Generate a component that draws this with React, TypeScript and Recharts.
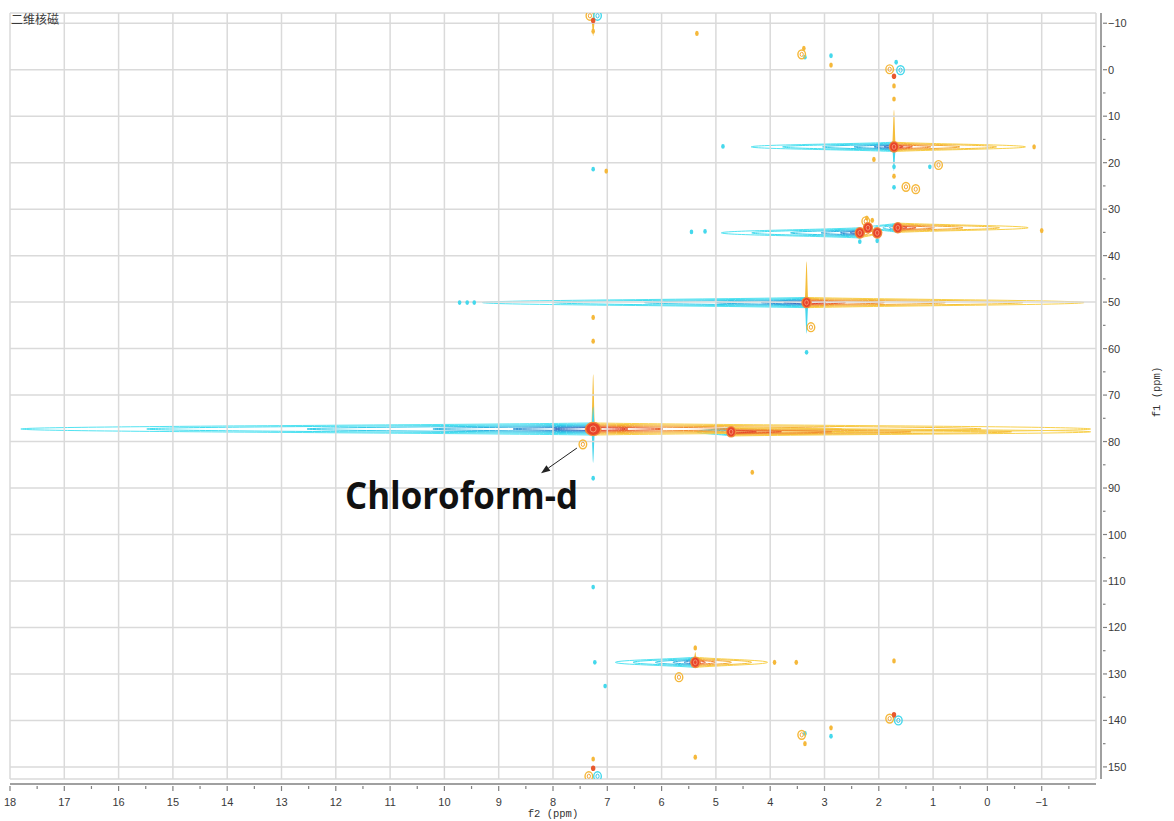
import React from 'react';
import {
  ScatterChart, Scatter, XAxis, YAxis, ReferenceLine, ReferenceArea, ReferenceDot,
} from 'recharts';

// axes (ppm)
const f2Labels = [18, 17, 16, 15, 14, 13, 12, 11, 10, 9, 8, 7, 6, 5, 4, 3, 2, 1, 0, -1];
const f2Ticks = [18, 17.5, 17, 16.5, 16, 15.5, 15, 14.5, 14, 13.5, 13, 12.5, 12, 11.5, 11, 10.5, 10, 9.5, 9, 8.5,
  8, 7.5, 7, 6.5, 6, 5.5, 5, 4.5, 4, 3.5, 3, 2.5, 2, 1.5, 1, 0.5, 0, -0.5, -1, -1.5];
const f1Labels = [-10, 0, 10, 20, 30, 40, 50, 60, 70, 80, 90, 100, 110, 120, 130, 140, 150];
const f1Ticks = [-10, -5, 0, 5, 10, 15, 20, 25, 30, 35, 40, 45, 50, 55, 60, 65, 70, 75, 80, 85, 90, 95, 100,
  105, 110, 115, 120, 125, 130, 135, 140, 145, 150];
const f2Range: [number, number] = [-2, 18];
const f1Range: [number, number] = [-12.2, 152.6];

// cross peaks: centre + where the cyan (left) and orange (right) ridges end along f2
const peakF2 = [7.26, 4.72, 3.33, 2.35, 1.65, 1.72, 5.38];
const peakF1 = [77.3, 77.9, 50.1, 35.1, 34.0, 16.6, 127.5];
const peakCyanTo = [17.8, 5.35, 9.3, 4.9, 2.2, 4.35, 6.85];
const peakOrangeTo = [-1.9, -1.9, -1.78, 2.0, -0.75, -0.7, 4.05];
const peakHalfF1 = [1.3, 0.9, 1.1, 1.1, 1.0, 1.0, 1.1];
const solventCore: [number, number][] = [[7.26, 77.3]];
const extraCores: [number, number][] = [[2.2, 34.0], [2.03, 35.1]];

// streaks along f1
const vOrangeF2 = [7.26, 3.33, 1.72, 7.26, 5.38];
const vOrangeWide = [77.3, 50.1, 16.6, -11.0, 127.5];
const vOrangeTip = [65.5, 41.2, 8.6, -7.2, 125.3];
const vCyanF2 = [7.26, 3.33, 1.72, 7.26];
const vCyanWide = [77.3, 50.1, 16.6, 77.3];
const vCyanTip = [84.6, 56.8, 21.8, 72.5];

// small isolated spots [f2, f1]
const orangeSpots: [number, number][] = [
  [7.26, -8.3], [5.35, -7.8], [3.38, -4.6], [2.88, -1.0], [1.72, 3.5], [1.72, 6.3], [1.72, 22.9],
  [7.02, 21.8], [-0.86, 16.6], [2.09, 19.3], [-1.0, 34.6], [2.22, 31.9], [2.12, 32.4], [7.26, 53.3],
  [7.26, 58.4], [4.33, 86.6], [3.92, 127.5], [3.52, 127.5], [1.72, 127.2], [5.38, 124.4], [5.38, 147.9],
  [3.36, 145.0], [2.88, 141.6], [7.26, 148.3],
];
const orangeRings: [number, number][] = [
  [7.32, -11.6], [3.42, -3.3], [1.8, -0.1], [1.5, 25.2], [1.32, 25.7], [0.9, 20.5], [2.24, 32.6],
  [3.25, 55.4], [7.45, 80.6], [5.68, 130.7], [3.42, 143.1], [1.8, 139.6], [7.34, 152.0],
];
const cyanSpots: [number, number][] = [
  [3.36, -2.7], [2.88, -3.0], [1.68, -1.6], [4.87, 16.5], [1.72, 20.9], [1.06, 20.9], [7.26, 21.4],
  [1.72, 25.3], [5.45, 34.9], [5.2, 34.8], [2.35, 37.0], [2.03, 36.8], [9.72, 50.1], [9.58, 50.1],
  [9.45, 50.1], [3.33, 60.8], [7.26, 87.9], [7.26, 111.3], [7.23, 127.5], [7.04, 132.6], [3.36, 142.8],
  [2.88, 143.4],
];
const cyanRings: [number, number][] = [[7.18, -11.6], [1.6, 0.1], [1.64, 140.0], [7.18, 152.0]];
const redSpots: [number, number][] = [[1.72, 1.4], [1.72, 138.8], [7.26, 150.3], [7.26, -10.6]];

const CYAN = ['#52e3f1', '#3fdcef', '#33cbe9', '#2fb2e0', '#3393d4', '#3b70c2'];
const ORANGE = ['#f8d04a', '#f6c03a', '#f4ab34', '#f08c31', '#ea622d', '#e3452a'];
const LEN = [1, 0.78, 0.5, 0.28, 0.14, 0.07];
const HT = [1, 0.82, 0.66, 0.52, 0.4, 0.3];
const GRID = '#dadada';
const AXIS = '#808080';
const TICK_FONT = '"Liberation Sans", Arial, sans-serif';

const pts = (list: [number, number][]) => list.map(([x, y]) => ({ x, y }));
const fmt = (v: number) => (v < 0 ? '\u2212' + Math.abs(v) : String(v));

const spindle = (cx: number, cy: number, L: number, h: number, d: number) =>
  `M${cx},${cy - h} C${cx + d * L * 0.3},${cy - h * 0.6} ${cx + d * L * 0.99},${cy - h * 0.45} ${cx + d * L},${cy} ` +
  `C${cx + d * L * 0.99},${cy + h * 0.45} ${cx + d * L * 0.3},${cy + h * 0.6} ${cx},${cy + h}`;

const vSpindle = (cx: number, cy: number, L: number, w: number, d: number) =>
  `M${cx - w},${cy} C${cx - w * 0.5},${cy + d * L * 0.3} ${cx - w * 0.3},${cy + d * L * 0.99} ${cx},${cy + d * L} ` +
  `C${cx + w * 0.3},${cy + d * L * 0.99} ${cx + w * 0.5},${cy + d * L * 0.3} ${cx + w},${cy} Z`;

const ridge = (dir: number, colors: string[]) => (p: any) => {
  const { x, y, width, height } = p;
  if (x == null || !isFinite(x)) return <g />;
  const cy = y + height / 2;
  const cx = dir < 0 ? x + width : x;
  return (
    <g>
      {LEN.map((lf, k) => (
        <path key={k} d={spindle(cx, cy, width * lf, (height / 2) * HT[k], dir)}
          fill="none" stroke={colors[k]} strokeWidth={1} />
      ))}
    </g>
  );
};

const vStreak = (tipAbove: boolean, color: string) => (p: any) => {
  const { x, y, width, height } = p;
  if (x == null || !isFinite(x)) return <g />;
  const cx = x + width / 2;
  return tipAbove
    ? <path d={vSpindle(cx, y + height, height, 1.8, -1)} fill={color} />
    : <path d={vSpindle(cx, y, height, 1.8, 1)} fill={color} />;
};

const XTick = (p: any) => {
  const { x, y, payload } = p;
  const major = Number.isInteger(payload.value);
  return (
    <g>
      <line x1={x} x2={x} y1={y + 5} y2={y + 5 + (major ? 5 : 3)} stroke={AXIS} strokeWidth={1.2} />
      {major && f2Labels.includes(payload.value) && (
        <text x={x} y={y + 25} textAnchor="middle" fontSize={11} fill="#3a3a3a" fontFamily={TICK_FONT}>
          {fmt(payload.value)}
        </text>
      )}
    </g>
  );
};

const YTick = (p: any) => {
  const { x, y, payload } = p;
  const major = f1Labels.includes(payload.value);
  return (
    <g>
      <line x1={x + 5} x2={x + 5 + (major ? 4 : 2.5)} y1={y} y2={y} stroke={AXIS} strokeWidth={1.2} />
      {major && (
        <text x={x + 10} y={y + 4} textAnchor="start" fontSize={11} fill="#3a3a3a" fontFamily={TICK_FONT}>
          {fmt(payload.value)}
        </text>
      )}
    </g>
  );
};

const Arrow = (p: any) => {
  const { x1, y1, x2, y2 } = p;
  const a = Math.atan2(y2 - y1, x2 - x1);
  const hl = 9, hw = 3.5;
  const bx = x2 - hl * Math.cos(a), by = y2 - hl * Math.sin(a);
  const nx = -Math.sin(a) * hw, ny = Math.cos(a) * hw;
  return (
    <g>
      <line x1={x1} y1={y1} x2={bx} y2={by} stroke="#222" strokeWidth={1} />
      <polygon points={`${x2},${y2} ${bx + nx},${by + ny} ${bx - nx},${by - ny}`} fill="#222" />
    </g>
  );
};

export default function App() {
  const peaks = peakF2.map((x, i) => ({ x, y: peakF1[i] }));
  return (
    <div style={{ position: 'absolute', left: 0, top: 0, width: 1174, height: 821, background: '#fff' }}>
      <ScatterChart width={1174} height={821} margin={{ top: 13, right: 0, bottom: 0, left: 10 }}>
        <XAxis type="number" dataKey="x" domain={f2Range} reversed allowDataOverflow ticks={f2Ticks}
          interval={0} tickSize={0} tickLine={false} height={42}
          axisLine={{ stroke: AXIS, strokeWidth: 1.5, transform: 'translate(0,5)' }}
          tick={(p: any) => <XTick {...p} />}
          label={{ value: 'f2 (ppm)', position: 'insideBottom', offset: 4, fontSize: 10.5,
            fill: '#333', fontFamily: '"Liberation Mono", monospace' }} />
        <YAxis type="number" dataKey="y" orientation="right" domain={f1Range} reversed allowDataOverflow
          ticks={f1Ticks} interval={0} tickSize={0} tickLine={false} width={78}
          axisLine={{ stroke: AXIS, strokeWidth: 1.5, transform: 'translate(5,0)' }}
          tick={(p: any) => <YTick {...p} />}
          label={{
            content: (p: any) => {
              const vb = p.viewBox || {};
              const lx = vb.x + 64, ly = vb.y + vb.height / 2 - 4;
              return (
                <text x={lx} y={ly} transform={`rotate(-90, ${lx}, ${ly})`} textAnchor="middle"
                  fontSize={10.5} fill="#333" fontFamily='"Liberation Mono", monospace'>f1 (ppm)</text>
              );
            },
          }} />

        {f2Labels.map((v) => (
          <ReferenceLine key={'gx' + v} x={v} stroke={GRID} strokeWidth={1.5} ifOverflow="visible" />
        ))}
        {f1Labels.map((v) => (
          <ReferenceLine key={'gy' + v} y={v} stroke={GRID} strokeWidth={1.5} ifOverflow="visible" />
        ))}
        <ReferenceLine y={f1Range[0]} stroke={GRID} strokeWidth={1.5} ifOverflow="visible" />
        <ReferenceLine y={f1Range[1]} stroke={GRID} strokeWidth={1.5} ifOverflow="visible" />
        <ReferenceLine x={f2Range[0]} stroke={GRID} strokeWidth={1.5} ifOverflow="visible" />

        {peakF2.map((x0, i) => (
          <ReferenceArea key={'rc' + i} x1={peakCyanTo[i]} x2={x0} y1={peakF1[i] - peakHalfF1[i]}
            y2={peakF1[i] + peakHalfF1[i]} ifOverflow="visible" shape={ridge(-1, CYAN)} />
        ))}
        {peakF2.map((x0, i) => (
          <ReferenceArea key={'ro' + i} x1={x0} x2={peakOrangeTo[i]} y1={peakF1[i] - peakHalfF1[i]}
            y2={peakF1[i] + peakHalfF1[i]} ifOverflow="visible" shape={ridge(1, ORANGE)} />
        ))}
        {vOrangeF2.map((x0, i) => (
          <ReferenceArea key={'vo' + i} x1={x0 + 0.01} x2={x0 - 0.01} y1={vOrangeWide[i]} y2={vOrangeTip[i]}
            ifOverflow="visible" shape={vStreak(vOrangeTip[i] < vOrangeWide[i], '#f5bd3a')} />
        ))}
        {vCyanF2.map((x0, i) => (
          <ReferenceArea key={'vc' + i} x1={x0 + 0.01} x2={x0 - 0.01} y1={vCyanWide[i]} y2={vCyanTip[i]}
            ifOverflow="visible" shape={vStreak(vCyanTip[i] < vCyanWide[i], '#45d6ec')} />
        ))}

        <Scatter data={pts(orangeSpots)} isAnimationActive={false}
          shape={(p: any) => <ellipse cx={p.cx} cy={p.cy} rx={1.8} ry={2.6} fill="#f5b83a" />} />
        <Scatter data={pts(cyanSpots)} isAnimationActive={false}
          shape={(p: any) => <ellipse cx={p.cx} cy={p.cy} rx={1.8} ry={2.4} fill="#45d8ec" />} />
        <Scatter data={pts(orangeRings)} isAnimationActive={false}
          shape={(p: any) => (
            <g>
              <ellipse cx={p.cx} cy={p.cy} rx={3.8} ry={4.4} fill="none" stroke="#f5b83a" strokeWidth={1.4} />
              <ellipse cx={p.cx} cy={p.cy} rx={1.6} ry={2.1} fill="none" stroke="#f3a534" strokeWidth={1} />
            </g>
          )} />
        <Scatter data={pts(cyanRings)} isAnimationActive={false}
          shape={(p: any) => (
            <g>
              <ellipse cx={p.cx} cy={p.cy} rx={3.8} ry={4.4} fill="none" stroke="#45d8ec" strokeWidth={1.4} />
              <ellipse cx={p.cx} cy={p.cy} rx={1.6} ry={2.1} fill="none" stroke="#38c8e8" strokeWidth={1} />
            </g>
          )} />
        <Scatter data={pts(redSpots)} isAnimationActive={false}
          shape={(p: any) => <ellipse cx={p.cx} cy={p.cy} rx={2.2} ry={2.8} fill="#e8582e" />} />

        <Scatter data={[...peaks.slice(1), ...pts(extraCores)]} isAnimationActive={false}
          shape={(p: any) => (
            <g>
              <ellipse cx={p.cx} cy={p.cy} rx={5.2} ry={5.8} fill="#f08a3c" />
              <ellipse cx={p.cx} cy={p.cy} rx={4} ry={4.6} fill="#e8432b" />
              <ellipse cx={p.cx} cy={p.cy} rx={1.8} ry={2.4} fill="none" stroke="#f6a07c" strokeWidth={0.8} />
            </g>
          )} />
        <Scatter data={pts(solventCore)} isAnimationActive={false}
          shape={(p: any) => (
            <g>
              <ellipse cx={p.cx} cy={p.cy} rx={8.5} ry={7.2} fill="#f08a3c" />
              <ellipse cx={p.cx} cy={p.cy} rx={7} ry={6} fill="#e8432b" />
              <ellipse cx={p.cx} cy={p.cy} rx={3} ry={3} fill="none" stroke="#f6a07c" strokeWidth={0.9} />
            </g>
          )} />

        <ReferenceLine segment={[{ x: 7.56, y: 81.4 }, { x: 8.22, y: 86.8 }]} ifOverflow="visible" shape={Arrow} />
        <ReferenceDot x={11.83} y={94.5} r={0} ifOverflow="visible"
          shape={(p: any) => (
            <text x={p.cx} y={p.cy} fontSize={37} fontWeight={700} fill="#111" textLength={233}
              lengthAdjust="spacingAndGlyphs" fontFamily='"Open Sans", "Noto Sans", sans-serif'>
              Chloroform-d
            </text>
          )} />
      </ScatterChart>
      <div style={{ position: 'absolute', left: 11, top: 12, fontSize: 12, lineHeight: '14px', color: '#3a3a3a',
        fontFamily: '"Noto Sans CJK SC", sans-serif' }}>
        二维核磁
      </div>
    </div>
  );
}
